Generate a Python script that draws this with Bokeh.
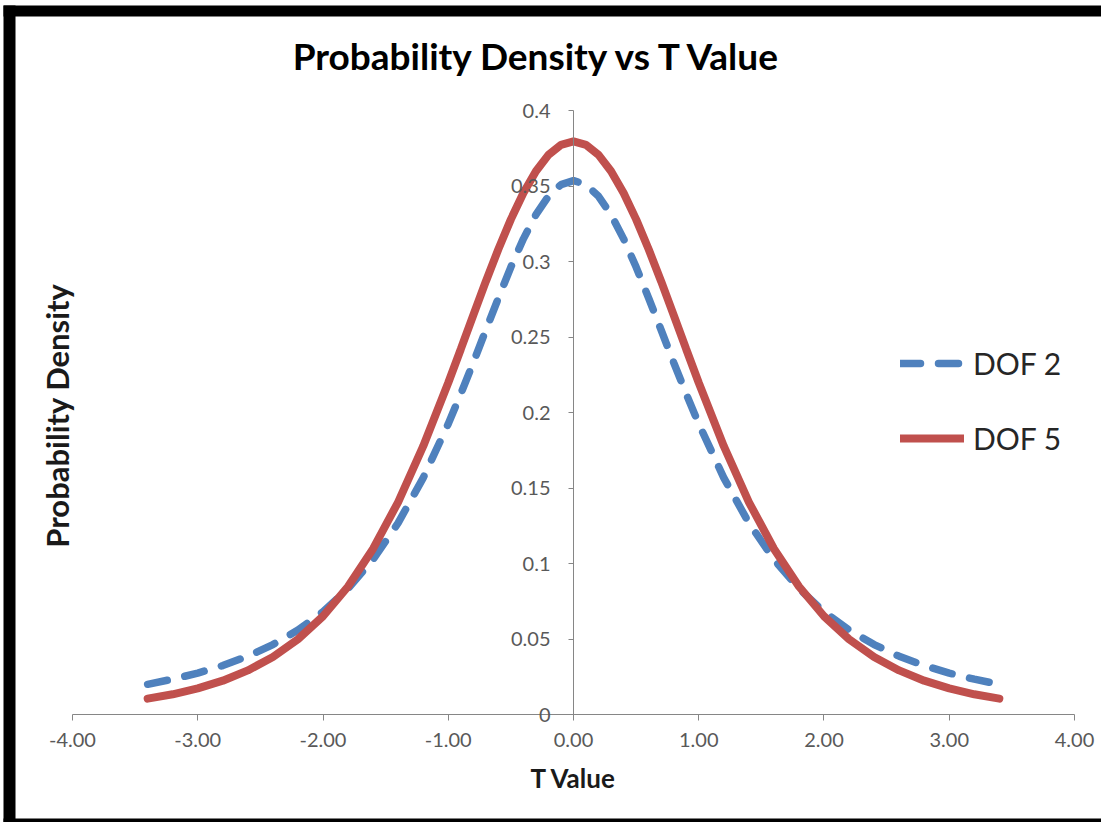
import math
from bokeh.plotting import figure
from bokeh.models import (Range1d, FixedTicker, NumeralTickFormatter, Legend, LegendItem,
                          Label, BoxAnnotation)
from bokeh.embed import file_html
from bokeh.resources import INLINE

# ---- data ----
t_values = [-3.4, -3.2, -3.0, -2.8, -2.6, -2.4, -2.2, -2.0, -1.8, -1.6, -1.4, -1.2,
            -1.0, -0.9, -0.8, -0.7, -0.6, -0.5, -0.4, -0.3, -0.2, -0.1, 0.0,
            0.1, 0.2, 0.3, 0.4, 0.5, 0.6, 0.7, 0.8, 0.9, 1.0,
            1.2, 1.4, 1.6, 1.8, 2.0, 2.2, 2.4, 2.6, 2.8, 3.0, 3.2, 3.4]
dof2 = [0.0200, 0.0234, 0.0274, 0.0324, 0.0386, 0.0463, 0.0559, 0.0680, 0.0834, 0.1027, 0.1269, 0.1567,
        0.1925, 0.2123, 0.2331, 0.2545, 0.2758, 0.2963, 0.3150, 0.3310, 0.3432, 0.3509, 0.3536,
        0.3509, 0.3432, 0.3310, 0.3150, 0.2963, 0.2758, 0.2545, 0.2331, 0.2123, 0.1925,
        0.1567, 0.1269, 0.1027, 0.0834, 0.0680, 0.0559, 0.0463, 0.0386, 0.0324, 0.0274, 0.0234, 0.0200]
dof5 = [0.0105, 0.0134, 0.0173, 0.0224, 0.0292, 0.0381, 0.0498, 0.0651, 0.0848, 0.1098, 0.1407, 0.1777,
        0.2197, 0.2419, 0.2645, 0.2868, 0.3081, 0.3279, 0.3454, 0.3598, 0.3706, 0.3773, 0.3796,
        0.3773, 0.3706, 0.3598, 0.3454, 0.3279, 0.3081, 0.2868, 0.2645, 0.2419, 0.2197,
        0.1777, 0.1407, 0.1098, 0.0848, 0.0651, 0.0498, 0.0381, 0.0292, 0.0224, 0.0173, 0.0134, 0.0105]
series_names = ["DOF 2", "DOF 5"]
x_ticks = [-4, -3, -2, -1, 0, 1, 2, 3, 4]
y_ticks = [0, 0.05, 0.1, 0.15, 0.2, 0.25, 0.3, 0.35, 0.4]
y_tick_labels = ["0", "0.05", "0.1", "0.15", "0.2", "0.25", "0.3", "0.35", "0.4"]
title_text = "Probability Density vs T Value"
x_label = "T Value"
y_label = "Probability Density"

FONT = "Lato"
BLUE = "#4F81BD"
RED = "#C0504D"
AXIS = "#868686"
TICK_TXT = "#595959"
W, H = 1101, 822

# the plotting frame covers the whole canvas; axes are pinned at 0 and bounded
p = figure(width=W, height=H, x_range=Range1d(-4.5749, 4.2156), y_range=Range1d(-0.07152, 0.47285),
           output_backend="svg", toolbar_location=None,
           min_border_left=0, min_border_right=0, min_border_top=0, min_border_bottom=0)
p.background_fill_color = "white"
p.border_fill_color = "white"
p.outline_line_color = None
p.grid.visible = False

# black picture frame (canvas units)
for l, r, t, b in [(3, 15, 5, H), (3, W, 5, 16), (3, W, 818, H)]:
    p.add_layout(BoxAnnotation(left=l, right=r, top=t, bottom=b,
                               left_units="canvas", right_units="canvas",
                               bottom_units="canvas", top_units="canvas",
                               fill_color="black", fill_alpha=1, line_color=None))

# title
p.add_layout(Label(x=538, y=H - 55, x_units="screen", y_units="screen", text=title_text,
                   text_align="center", text_baseline="middle",
                   text_font=FONT, text_font_style="bold", text_font_size="37px",
                   text_color="black"))

# y label
p.add_layout(Label(x=56, y=H - 415, x_units="screen", y_units="screen", text=y_label,
                   angle=math.pi / 2, text_align="center", text_baseline="middle",
                   text_font=FONT, text_font_style="bold", text_font_size="31px",
                   text_color="#1a1a1a"))

# x axis at y = 0
xa = p.xaxis[0]
xa.fixed_location = 0
xa.bounds = (-4, 4)
xa.ticker = FixedTicker(ticks=x_ticks)
xa.formatter = NumeralTickFormatter(format="0.00")
xa.axis_label = x_label
xa.axis_label_text_font = FONT
xa.axis_label_text_font_style = "bold"
xa.axis_label_text_font_size = "26px"
xa.axis_label_text_color = "#1a1a1a"
xa.axis_label_standoff = 12
xa.major_label_text_font = FONT
xa.major_label_text_font_size = "20px"
xa.major_label_text_color = TICK_TXT
xa.major_label_standoff = 12
xa.axis_line_color = AXIS
xa.major_tick_line_color = AXIS
xa.major_tick_out = 6
xa.major_tick_in = 0
xa.minor_tick_line_color = None

# y axis at x = 0
ya = p.yaxis[0]
ya.fixed_location = 0
ya.bounds = (0, 0.4)
ya.ticker = FixedTicker(ticks=y_ticks)
ya.major_label_overrides = {t: s for t, s in zip(y_ticks, y_tick_labels)}
ya.major_label_text_font = FONT
ya.major_label_text_font_size = "20px"
ya.major_label_text_color = TICK_TXT
ya.major_label_standoff = 18
ya.axis_line_color = AXIS
ya.major_tick_line_color = AXIS
ya.major_tick_out = 5
ya.major_tick_in = 0
ya.minor_tick_line_color = None

r2 = p.line(t_values, dof2, line_color=BLUE, line_width=7.5, line_dash="20 18", line_cap="round")
r5 = p.line(t_values, dof5, line_color=RED, line_width=8, line_cap="round")

legend = Legend(items=[LegendItem(label=series_names[0], renderers=[r2]),
                       LegendItem(label=series_names[1], renderers=[r5])],
                location=(900, H - 458), orientation="vertical",
                label_text_font=FONT, label_text_font_size="30px", label_text_color="#262626",
                glyph_width=64, glyph_height=40, label_height=40, spacing=35,
                label_standoff=9, padding=0, margin=0,
                border_line_color=None, background_fill_alpha=0)
p.add_layout(legend)

open("out.html", "w").write(file_html(p, INLINE))
